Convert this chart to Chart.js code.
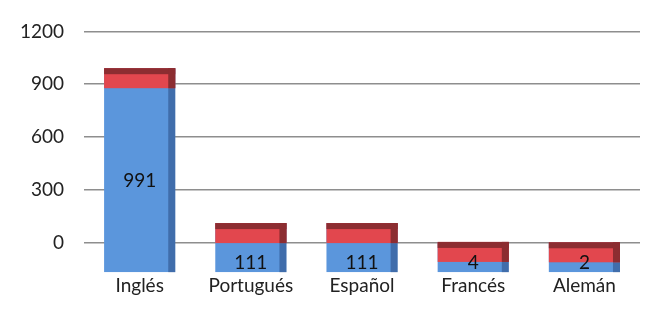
<!DOCTYPE html>
<html>
<head>
<meta charset="utf-8">
<script src="https://cdn.jsdelivr.net/npm/chart.js@4"></script>
<style>
  html, body { margin: 0; padding: 0; background: #fff; }
  #wrap { width: 661px; height: 314px; }
</style>
</head>
<body>
<div id="wrap"><canvas id="barchart"></canvas></div>
<script>
const categories = ['Inglés', 'Portugués', 'Español', 'Francés', 'Alemán'];
const values = [991, 111, 111, 4, 2];
const yTicks = [0, 300, 600, 900, 1200];

// floor of the 3D box sits below the zero line
const floorValue = -168;

const capPlugin = {
    id: 'caps',
    afterDatasetsDraw(chart) {
        const ctx = chart.ctx;
        const meta = chart.getDatasetMeta(0);
        meta.data.forEach((bar, i) => {
            const w = bar.width;
            const left = bar.x - w / 2;
            const h = bar.base - bar.y;
            ctx.save();
            // right side shade
            ctx.fillStyle = 'rgba(30, 60, 110, 0.45)';
            ctx.fillRect(left + w - 7, bar.y, 7, h);
            // red cap
            const capH = Math.min(20, h);
            ctx.fillStyle = '#e2474e';
            ctx.fillRect(left, bar.y, w, capH);
            ctx.fillStyle = '#8c2d31';
            ctx.fillRect(left, bar.y, w, Math.min(6, capH));
            ctx.fillRect(left + w - 7, bar.y, 7, capH);
            // value label
            ctx.fillStyle = '#111';
            ctx.font = '19px Lato';
            ctx.textAlign = 'center';
            ctx.textBaseline = 'middle';
            let ly = bar.y + h * 0.55;
            if (h < 60) ly = bar.base - 9;
            ctx.fillText(String(values[i]), bar.x, ly);
            ctx.restore();
        });
    }
};

const ctx = document.getElementById('barchart');

new Chart(ctx, {
    type: 'bar',
    data: {
        labels: categories,
        datasets: [{
            data: values,
            base: floorValue,
            backgroundColor: '#5b96dc',
            borderWidth: 0,
            barPercentage: 0.64,
            categoryPercentage: 1
        }]
    },
    options: {
        responsive: true,
        maintainAspectRatio: false,
        animation: false,
        layout: { padding: { left: 0, right: 21, top: 0, bottom: 15 } },
        plugins: {
            legend: { display: false },
            tooltip: { enabled: false }
        },
        scales: {
            y: {
                min: floorValue,
                max: 1200,
                border: { display: false },
                grid: {
                    drawTicks: false,
                    lineWidth: 1.5,
                    color: (c) => c.tick && c.tick.value >= 0 ? '#8e8e8e' : 'rgba(0,0,0,0)'
                },
                afterBuildTicks: (scale) => {
                    scale.ticks = yTicks.map(v => ({ value: v }));
                },
                ticks: {
                    padding: 20,
                    color: '#222',
                    font: { family: 'Lato', size: 19 },
                    callback: (v) => String(v)
                }
            },
            x: {
                border: { display: false },
                grid: { display: false, drawTicks: false },
                ticks: {
                    padding: 2,
                    color: '#222',
                    font: { family: 'Lato', size: 19 }
                }
            }
        }
    },
    plugins: [capPlugin]
});
</script>
</body>
</html>
